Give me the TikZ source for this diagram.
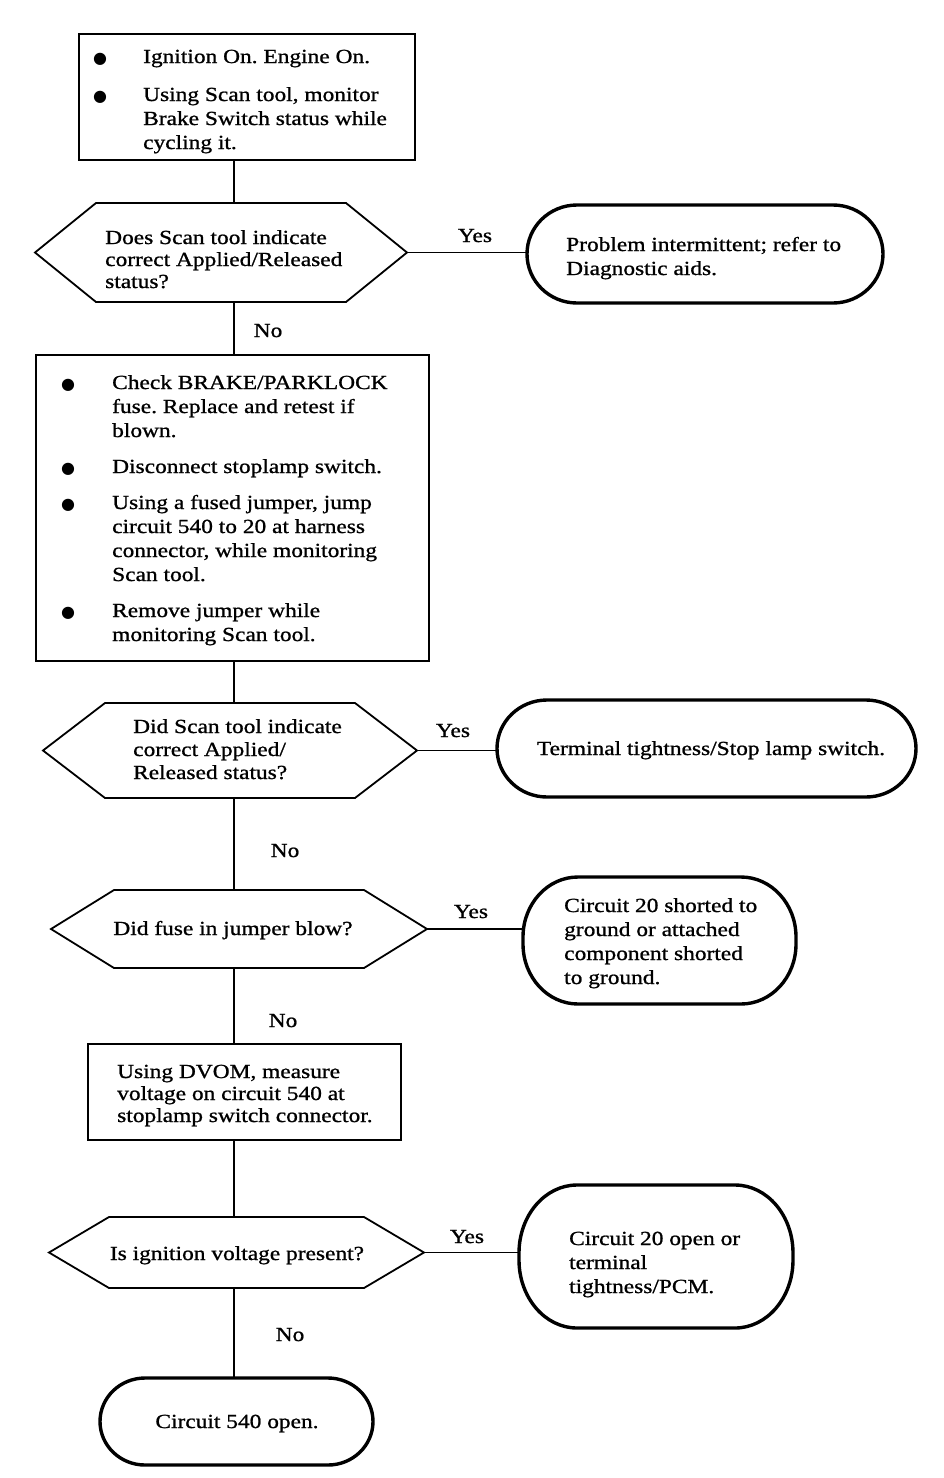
\documentclass[tikz,border=0pt]{standalone}
\usepackage{fontspec}
\setmainfont{Liberation Serif}[FakeStretch=1.17,FakeBold=1]
\newfontfamily\symfont{DejaVu Sans}
\usepackage{array}
\frenchspacing
\newcommand{\bul}{{\symfont\fontsize{16}{16}\selectfont ●}}
\newcommand{\termdraw}[3]{%
  \draw[termline] ([xshift=#2]#1.north west) -- ([xshift=-#2]#1.north east)
    arc[start angle=90, end angle=0, x radius=#2, y radius=#3]
    -- ([yshift=#3]#1.south east)
    arc[start angle=0, end angle=-90, x radius=#2, y radius=#3]
    -- ([xshift=#2]#1.south west)
    arc[start angle=270, end angle=180, x radius=#2, y radius=#3]
    -- ([yshift=-#3]#1.north west)
    arc[start angle=180, end angle=90, x radius=#2, y radius=#3] -- cycle;}
\newcommand{\hexdraw}[2]{%
  \draw[hexline] (#1.west) -- ([xshift=#2]#1.north west) -- ([xshift=-#2]#1.north east)
    -- (#1.east) -- ([xshift=-#2]#1.south east) -- ([xshift=#2]#1.south west) -- cycle;}
\begin{document}
\begin{tikzpicture}[x=1pt,y=-1pt,
  txt/.style={inner sep=0pt, anchor=base west, font=\fontsize{20}{24}\selectfont},
  ctxt/.style={inner sep=0pt, anchor=base, font=\fontsize{20}{24}\selectfont},
  lab/.style={inner sep=0pt, anchor=base, font=\fontsize{20}{24}\selectfont},
  boxshape/.style={draw, line width=2.8pt, inner sep=0pt},
  ghost/.style={inner sep=0pt, outer sep=0pt},
  hexline/.style={line width=1.8pt, line join=miter},
  termline/.style={line width=3.4pt},
  conn/.style={line width=1.6pt}]
\useasboundingbox (0,0) rectangle (944,1478);
\coordinate (sp) at (234,0);

% ---- process boxes ----
\node[boxshape, minimum width=336pt, minimum height=126pt] (b1) at (247,97) {};
\node[boxshape, minimum width=393pt, minimum height=306pt] (b2) at (232.5,508) {};
\node[boxshape, minimum width=313pt, minimum height=96pt] (b3) at (244.5,1092) {};

% ---- decision hexagons ----
\node[ghost, minimum width=372pt, minimum height=99pt] (d1) at (221,252.5) {};
\node[ghost, minimum width=374pt, minimum height=95pt] (d2) at (230,750.5) {};
\node[ghost, minimum width=376pt, minimum height=78pt] (d3) at (239,929) {};
\node[ghost, minimum width=375pt, minimum height=71pt] (d4) at (236.5,1252.5) {};
\hexdraw{d1}{61pt}
\hexdraw{d2}{62pt}
\hexdraw{d3}{63pt}
\hexdraw{d4}{60pt}

% ---- terminals ----
\node[ghost, minimum width=356pt, minimum height=98pt] (t1) at (705,254) {};
\node[ghost, minimum width=419pt, minimum height=97pt] (t2) at (706.5,748.5) {};
\node[ghost, minimum width=273pt, minimum height=127pt] (t3) at (659.5,940.5) {};
\node[ghost, minimum width=274pt, minimum height=143pt] (t4) at (656,1256.5) {};
\node[ghost, minimum width=273pt, minimum height=87pt] (t5) at (236.5,1421.5) {};
\termdraw{t1}{50pt}{49pt}
\termdraw{t2}{50pt}{48.5pt}
\termdraw{t3}{55pt}{60pt}
\termdraw{t4}{58pt}{68pt}
\termdraw{t5}{45pt}{43.5pt}

% ---- texts ----
\node[txt] (b1t) at (93,63) {\begin{tabular}[t]{@{}p{50pt}@{}l@{}}
\bul & Ignition On. Engine On.\\[14pt]
\bul & Using Scan tool, monitor\\
 & Brake Switch status while\\
 & cycling it.
\end{tabular}};
\node[txt, font=\fontsize{20}{22}\selectfont] (d1t) at (105,244) {\begin{tabular}[t]{@{}l@{}}
Does Scan tool indicate\\ correct Applied/Released\\ status?\end{tabular}};
\node[txt] (t1t) at (566,251) {\begin{tabular}[t]{@{}l@{}}
Problem intermittent; refer to\\ Diagnostic aids.\end{tabular}};
\node[txt] (b2t) at (61,389) {\begin{tabular}[t]{@{}p{51pt}@{}l@{}}
\bul & Check BRAKE/PARKLOCK\\
 & fuse. Replace and retest if\\
 & blown.\\[12pt]
\bul & Disconnect stoplamp switch.\\[12pt]
\bul & Using a fused jumper, jump\\
 & circuit 540 to 20 at harness\\
 & connector, while monitoring\\
 & Scan tool.\\[12pt]
\bul & Remove jumper while\\
 & monitoring Scan tool.
\end{tabular}};
\node[txt, font=\fontsize{20}{23}\selectfont] (d2t) at (133,733) {\begin{tabular}[t]{@{}l@{}}
Did Scan tool indicate\\ correct Applied/\\ Released status?\end{tabular}};
\node[ctxt] (t2t) at (711,755) {Terminal tightness/Stop lamp switch.};
\node[ctxt] (d3t) at (233,935) {Did fuse in jumper blow?};
\node[txt] (t3t) at (564,912) {\begin{tabular}[t]{@{}l@{}}
Circuit 20 shorted to\\ ground or attached\\ component shorted\\ to ground.\end{tabular}};
\node[txt, font=\fontsize{20}{22}\selectfont] (b3t) at (117,1078) {\begin{tabular}[t]{@{}l@{}}
Using DVOM, measure\\ voltage on circuit 540 at\\ stoplamp switch connector.\end{tabular}};
\node[ctxt] (d4t) at (237,1260) {Is ignition voltage present?};
\node[txt] (t4t) at (569,1245) {\begin{tabular}[t]{@{}l@{}}
Circuit 20 open or\\ terminal\\ tightness/PCM.\end{tabular}};
\node[ctxt] (t5t) at (237,1428) {Circuit 540 open.};

% ---- connectors ----
\draw[conn] (b1.south -| sp) -- (d1.north -| sp);
\draw[conn] (d1.south -| sp) -- (b2.north -| sp);
\draw[conn] (b2.south -| sp) -- (d2.north -| sp);
\draw[conn] (d2.south -| sp) -- (d3.north -| sp);
\draw[conn] (d3.south -| sp) -- (b3.north -| sp);
\draw[conn] (b3.south -| sp) -- (d4.north -| sp);
\draw[conn] (d4.south -| sp) -- (t5.north -| sp);
\draw[conn] (d1.east) -- (d1.east -| t1.west);
\draw[conn] (d2.east) -- (d2.east -| t2.west);
\draw[conn] (d3.east) -- (d3.east -| t3.west);
\draw[conn] (d4.east) -- (d4.east -| t4.west);

% ---- labels ----
\node[lab] (y1) at (475,242) {Yes};
\node[lab] (n1) at (268,337) {No};
\node[lab] (y2) at (453,737) {Yes};
\node[lab] (n2) at (285,857) {No};
\node[lab] (y3) at (471,918) {Yes};
\node[lab] (n3) at (283,1027) {No};
\node[lab] (y4) at (467,1243) {Yes};
\node[lab] (n4) at (290,1341) {No};
\end{tikzpicture}
\end{document}
